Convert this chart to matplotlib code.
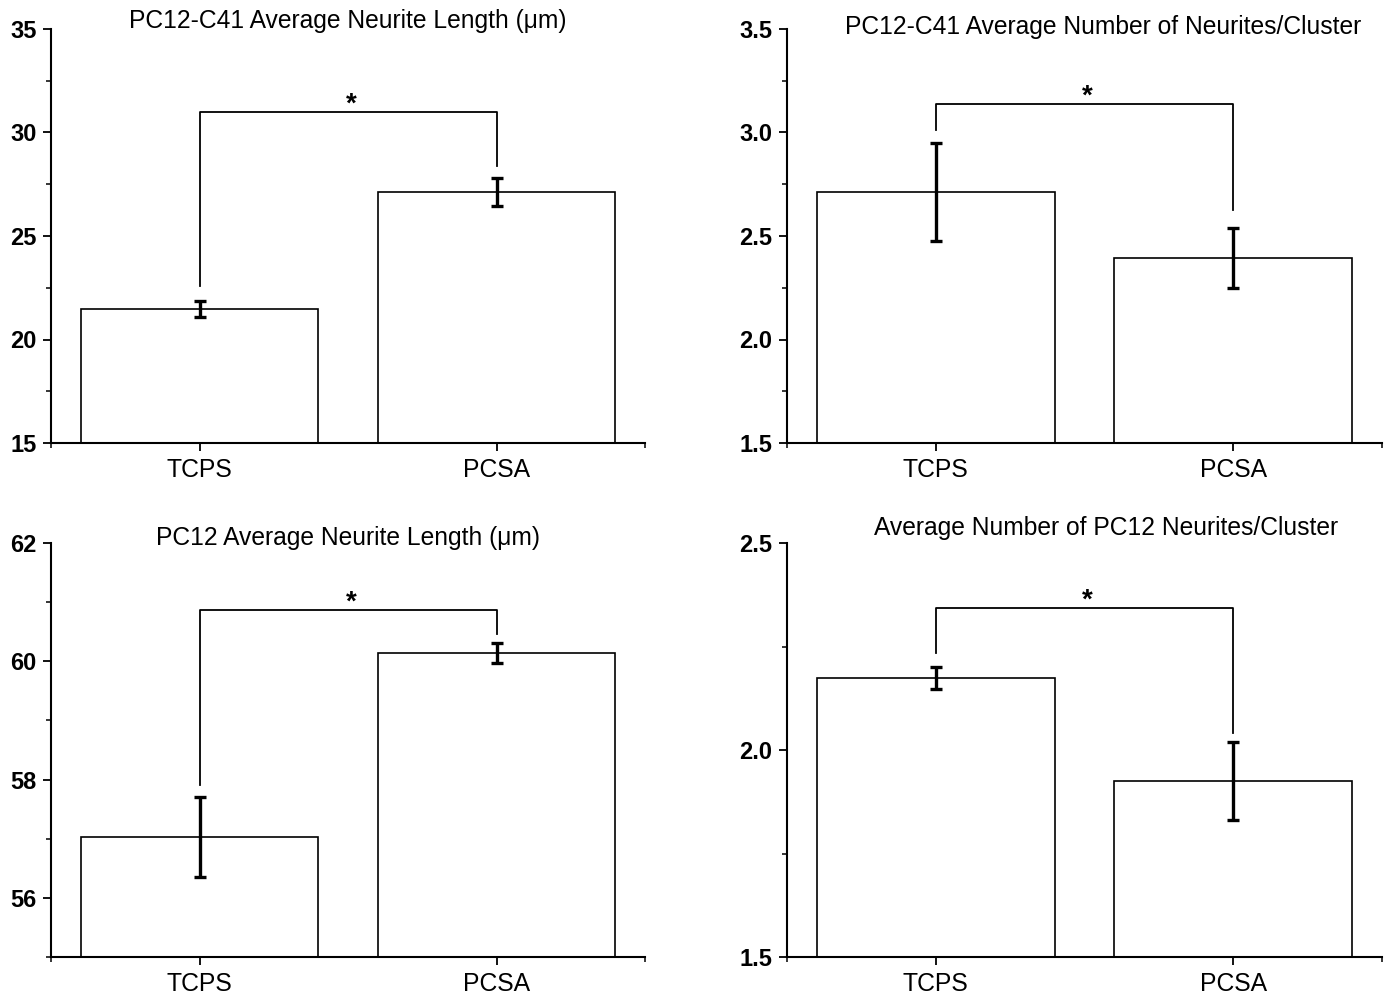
import numpy as np
import matplotlib
matplotlib.use("Agg")
import matplotlib.pyplot as plt
from matplotlib.ticker import MultipleLocator, FixedLocator

plt.rcParams['font.family'] = ['Liberation Sans', 'DejaVu Sans']

# datos
groups = ["TCPS", "PCSA"]

c41_length = [21.47, 27.13]
c41_length_err = [0.40, 0.68]

c41_number = [2.713, 2.394]
c41_number_err = [0.235, 0.145]

pc12_length = [57.03, 60.14]
pc12_length_err = [0.68, 0.17]

pc12_number = [2.174, 1.925]
pc12_number_err = [0.027, 0.094]

# corchetes de significancia: altura, pata izquierda, pata derecha
c41_length_sig = [31.0, 22.6, 28.4]
c41_number_sig = [3.138, 3.012, 2.626]
pc12_length_sig = [60.87, 57.91, 60.46]
pc12_number_sig = [2.343, 2.234, 2.041]

titles = ["PC12-C41 Average Neurite Length (\u03bcm)",
          "PC12-C41 Average Number of Neurites/Cluster",
          "PC12 Average Neurite Length (\u03bcm)",
          "Average Number of PC12 Neurites/Cluster"]

W, H = 1388, 993
fig = plt.figure(figsize=(W / 100, H / 100), dpi=100)


def make_axes(left, top, right, bottom):
    return fig.add_axes([left / W, 1 - bottom / H, (right - left) / W, (bottom - top) / H])


def bold_ylabels(ax):
    for lab in ax.get_yticklabels():
        lab.set_fontweight('bold')
        lab.set_fontsize(17)


def panel(ax, values, errors, sig, ylim, major, minor, fmt, title, tpos):
    x = np.arange(1, len(values) + 1)
    ax.bar(x, values, width=0.8, color='white', edgecolor='black', linewidth=1.2, zorder=2)
    ax.errorbar(x, values, yerr=errors, fmt='none', ecolor='black', elinewidth=2.4,
                capsize=4.5, capthick=2.4, zorder=3)
    top, left_leg, right_leg = sig
    ax.plot([x[0], x[0], x[1], x[1]], [left_leg, top, top, right_leg],
            color='black', linewidth=1.3, zorder=3)
    # asterisco sobre el corchete
    ax.annotate("*", xy=((x[0] + x[1]) / 2 + 0.01, top), xytext=(0, 5),
                textcoords='offset points', ha='center', va='center',
                fontsize=20, fontweight='bold')

    ax.set_xlim(0.5, 2.5)
    ax.set_ylim(*ylim)
    ax.set_xticks(x)
    ax.set_xticklabels(groups, fontsize=17.8)
    ax.xaxis.set_minor_locator(FixedLocator([0.5, 2.5]))
    ax.yaxis.set_major_locator(MultipleLocator(major))
    ax.yaxis.set_minor_locator(MultipleLocator(minor))
    ax.yaxis.set_major_formatter(plt.FormatStrFormatter(fmt))
    bold_ylabels(ax)

    for s in ['top', 'right']:
        ax.spines[s].set_visible(False)
    for s in ['left', 'bottom']:
        ax.spines[s].set_linewidth(1.5)
    ax.tick_params(which='major', direction='out', length=5.5, width=1.3, pad=5)
    ax.tick_params(which='minor', direction='out', length=3.5, width=1.1)
    ax.tick_params(axis='y', which='major', pad=5)
    ax.text(tpos[0], tpos[1], title, transform=ax.transAxes, ha='center',
            va='baseline', fontsize=17.7)


ax1 = make_axes(51, 29, 645, 443)
panel(ax1, c41_length, c41_length_err, c41_length_sig, (15, 35), 5, 2.5, '%d',
      titles[0], (0.5, 1.002))

ax2 = make_axes(787, 29, 1382, 443)
panel(ax2, c41_number, c41_number_err, c41_number_sig, (1.5, 3.5), 0.5, 0.25, '%.1f',
      titles[1], (0.531, 0.988))

ax3 = make_axes(51, 543, 645, 957)
panel(ax3, pc12_length, pc12_length_err, pc12_length_sig, (55, 62), 2, 1, '%d',
      titles[2], (0.5, 0.995))
ax3.set_yticks([56, 58, 60, 62])
bold_ylabels(ax3)

ax4 = make_axes(787, 543, 1382, 957)
panel(ax4, pc12_number, pc12_number_err, pc12_number_sig, (1.5, 2.5), 0.5, 0.25, '%.1f',
      titles[3], (0.536, 1.019))

fig.savefig("out.png", dpi=100)
